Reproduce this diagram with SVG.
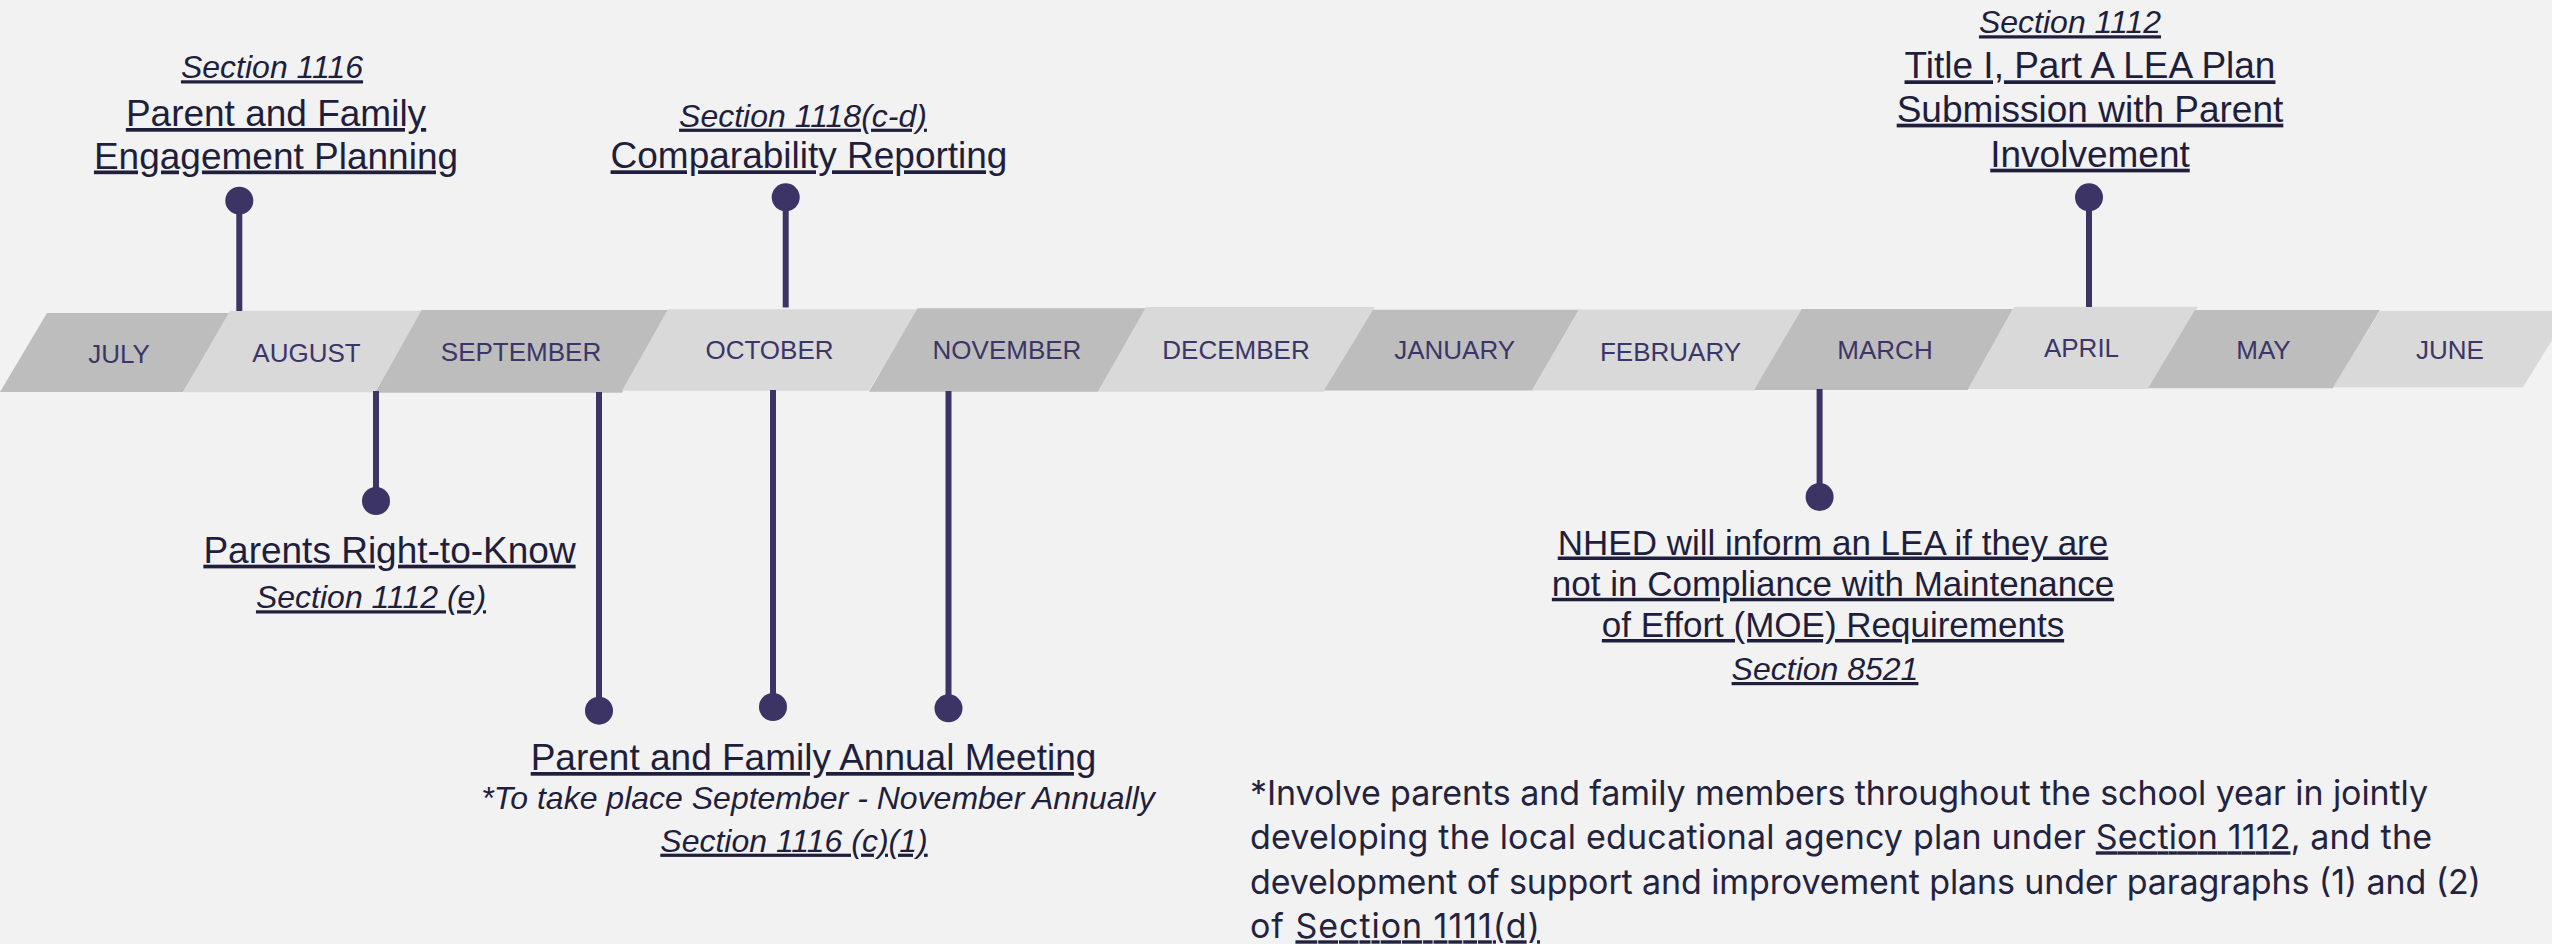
<svg xmlns="http://www.w3.org/2000/svg" width="2552" height="944" viewBox="0 0 2552 944">
<style>
.dark{fill:#BDBDBD}
.light{fill:#D9D9D9}
.mon{font-family:"Liberation Sans",Arial,sans-serif;font-size:26px;fill:#3C3567;text-anchor:middle}
.pin{stroke:#3B3464;stroke-width:6;fill:none}
.dot{fill:#3B3464}
.main{font-family:"Liberation Sans",Arial,sans-serif;font-size:37px;fill:#1F1E3C;text-anchor:middle;text-decoration:underline}
.sec{font-family:"Liberation Sans",Arial,sans-serif;font-size:32px;font-style:italic;fill:#1F1E3C;text-anchor:middle;text-decoration:underline}
.note{font-family:"Liberation Sans",Arial,sans-serif;font-size:32px;font-style:italic;fill:#1F1E3C;text-anchor:middle}
.foot{font-family:Inter,"Liberation Sans",sans-serif;font-size:34px;fill:#24233F}
.ul{text-decoration:underline}
</style>
<rect width="2552" height="944" fill="#F2F2F2"/>
<g id="timeline">
<g id="m-jul"><polygon class="dark" points="47,313 230,313 183,392 0,392"/><text class="mon" x="119" y="362.5">JULY</text></g>
<g id="m-aug"><polygon class="light" points="230,310.7 421.7,310.7 375,392.3 183,392.3"/><text class="mon" x="306.5" y="361.7">AUGUST</text></g>
<g id="m-sep"><polygon class="dark" points="421.7,310 668,310 622,392.7 375,392.7"/><text class="mon" x="521" y="360.7">SEPTEMBER</text></g>
<g id="m-oct"><polygon class="light" points="668,309.3 917.6,309.3 869,390.7 622,390.7"/><text class="mon" x="769.5" y="359.3">OCTOBER</text></g>
<g id="m-nov"><polygon class="dark" points="917.6,308.3 1146,308.3 1098,391.7 869,391.7"/><text class="mon" x="1007" y="359.3">NOVEMBER</text></g>
<g id="m-dec"><polygon class="light" points="1146,307 1375,307 1324,391.7 1098,391.7"/><text class="mon" x="1236" y="359.3">DECEMBER</text></g>
<g id="m-jan"><polygon class="dark" points="1373,309.7 1579,309.7 1532,390.5 1324,390.5"/><text class="mon" x="1454.6" y="359">JANUARY</text></g>
<g id="m-feb"><polygon class="light" points="1579,309.5 1801.7,309.5 1754,390.5 1532,390.5"/><text class="mon" x="1670.5" y="361">FEBRUARY</text></g>
<g id="m-mar"><polygon class="dark" points="1801.7,309 2013,309 1968,390 1754,390"/><text class="mon" x="1885" y="359.3">MARCH</text></g>
<g id="m-apr"><polygon class="light" points="2014,306.7 2198,306.7 2148,389 1968,389"/><text class="mon" x="2081.5" y="357.3">APRIL</text></g>
<g id="m-may"><polygon class="dark" points="2195,310 2380,310 2333,388.3 2148,388.3"/><text class="mon" x="2263.5" y="359">MAY</text></g>
<g id="m-jun"><polygon class="light" points="2380,311 2570,311 2523,387.3 2333,387.3"/><text class="mon" x="2450" y="359">JUNE</text></g>
</g>
<g id="connectors">
<line class="pin" x1="239.3" y1="201" x2="239.3" y2="311"/><circle class="dot" cx="239.3" cy="200.7" r="14"/>
<line class="pin" x1="785.7" y1="197" x2="785.7" y2="307.5"/><circle class="dot" cx="785.7" cy="197.3" r="14"/>
<line class="pin" x1="2089" y1="197" x2="2089" y2="307"/><circle class="dot" cx="2089" cy="197.3" r="14"/>
<line class="pin" x1="376" y1="391" x2="376" y2="501"/><circle class="dot" cx="376" cy="501" r="14"/>
<line class="pin" x1="599" y1="392" x2="599" y2="710"/><circle class="dot" cx="599" cy="710.7" r="14"/>
<line class="pin" x1="773" y1="390" x2="773" y2="707"/><circle class="dot" cx="773" cy="707" r="14"/>
<line class="pin" x1="948.5" y1="391" x2="948.5" y2="708"/><circle class="dot" cx="948.5" cy="708.3" r="14"/>
<line class="pin" x1="1819.6" y1="389" x2="1819.6" y2="497"/><circle class="dot" cx="1819.6" cy="497" r="14"/>
</g>
<g id="n-engagement">
<text class="sec" x="272" y="78.3">Section 1116</text>
<text class="main" x="276" y="126">Parent and Family</text>
<text class="main" x="276" y="168.5">Engagement Planning</text>
</g>
<g id="n-comparability">
<text class="sec" x="803" y="126.7">Section 1118(c-d)</text>
<text class="main" x="809" y="168.3">Comparability Reporting</text>
</g>
<g id="n-leaplan">
<text class="sec" x="2070" y="33.3">Section 1112</text>
<text class="main" x="2090" y="78.3">Title I, Part A LEA Plan</text>
<text class="main" x="2090" y="121.7">Submission with Parent</text>
<text class="main" x="2090" y="166.7">Involvement</text>
</g>
<g id="n-righttoknow">
<text class="main" x="389.5" y="562.7">Parents Right-to-Know</text>
<text class="sec" x="371" y="608.3">Section 1112 (e)</text>
</g>
<g id="n-annual">
<text class="main" x="813.5" y="770">Parent and Family Annual Meeting</text>
<text class="note" x="818" y="809">*To take place September - November Annually</text>
<text class="sec" x="794" y="851.7">Section 1116 (c)(1)</text>
</g>
<g id="n-moe">
<text class="main" x="1833" y="554.5" style="font-size:35px">NHED will inform an LEA if they are</text>
<text class="main" x="1833" y="595.8" style="font-size:35px">not in Compliance with Maintenance</text>
<text class="main" x="1833" y="637" style="font-size:35px">of Effort (MOE) Requirements</text>
<text class="sec" x="1825" y="680">Section 8521</text>
</g>
<g id="footnote">
<text class="foot" x="1250" y="805" textLength="1178" lengthAdjust="spacing">*Involve parents and family members throughout the school year in jointly</text>
<text class="foot" x="1250" y="849.3" textLength="1182" lengthAdjust="spacing">developing the local educational agency plan under <tspan class="ul">Section 1112</tspan>, and the</text>
<text class="foot" x="1250" y="894" textLength="1231" lengthAdjust="spacing">development of support and improvement plans under paragraphs (1) and (2)</text>
<text class="foot" x="1250" y="938.3" textLength="290" lengthAdjust="spacing">of <tspan class="ul">Section 1111(d)</tspan></text>
</g>
</svg>
